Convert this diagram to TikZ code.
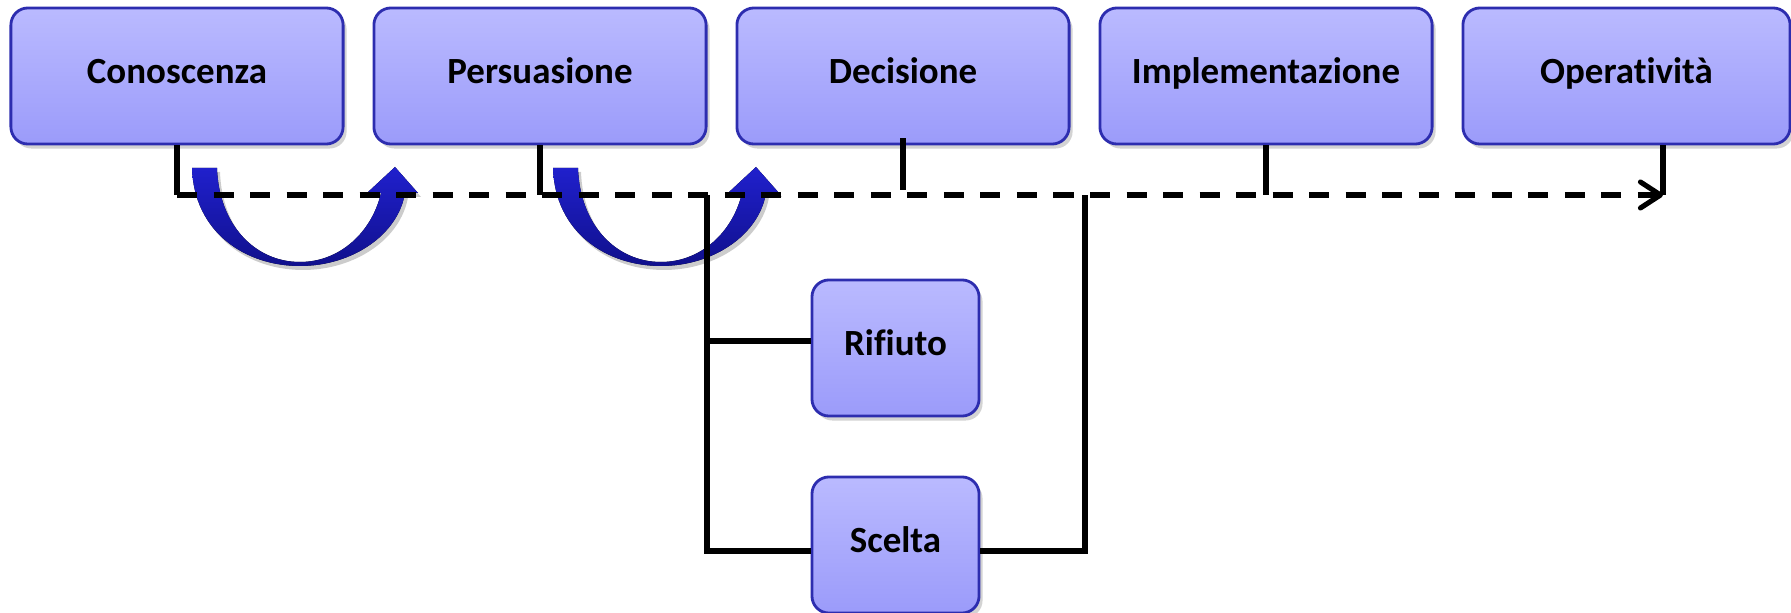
\documentclass[tikz,border=0pt]{standalone}
\usepackage{fontspec}
\setmainfont{Carlito}[Ligatures=NoCommon]
\usetikzlibrary{arrows.meta, shadows}

\definecolor{boxtop}{RGB}{186,186,255}
\definecolor{boxbot}{RGB}{155,155,250}
\definecolor{boxline}{RGB}{45,45,175}
\definecolor{curltop}{RGB}{32,32,205}
\definecolor{curlbot}{RGB}{16,16,140}

\begin{document}
\begin{tikzpicture}[x=0.01cm, y=-0.01cm,
  stage/.style={draw=boxline, line width=0.8pt, rounded corners=0.17cm,
    top color=boxtop, bottom color=boxbot,
    minimum width=3.32cm, minimum height=1.36cm,
    text height=0.23cm, text depth=0.08cm,
    font=\fontsize{10.5}{12}\selectfont\bfseries,
    drop shadow={shadow xshift=0.035cm, shadow yshift=-0.045cm, opacity=0.35}},
  small/.style={stage, minimum width=1.67cm},
  conn/.style={line width=1.45pt},
  flow/.style={conn, dash pattern=on 0.2cm off 0.165cm,
    -{Straight Barb[length=0.2cm, width=0.26cm, round]}},
  curl/.style={top color=curltop, bottom color=curlbot,
    drop shadow={shadow xshift=0.03cm, shadow yshift=-0.04cm, opacity=0.4}}]
	\useasboundingbox (0,0) rectangle (1791,613);

	\node [stage] (cono) at (177,76) {Conoscenza};
	\node [stage] (pers) at (540,76) {Persuasione};
	\node [stage] (deci) at (903,76) {Decisione};
	\node [stage] (impl) at (1266,76) {Implementazione};
	\node [stage, minimum width=3.27cm] (oper) at (1626.5,76) {Operatività};
	\node [small] (rifi) at (895.5,348) {Rifiuto};
	\node [small] (scel) at (895.5,545) {Scelta};

	\coordinate (c0) at (177,195);
	\coordinate (p0) at (540,195);
	\coordinate (i0) at (1266,195);
	\coordinate (o0) at (1663,195);
	\coordinate (d0) at (707,195);
	\coordinate (d1) at (707,551);
	\coordinate (r0) at (707,341);
	\coordinate (s0) at (1085,551);
	\coordinate (s1) at (1085,195);

	% blue curved arrows
	\fill [curl] (192,168) .. controls (194,232) and (245,266) .. (300,266)
		.. controls (352,266) and (398,235) .. (405,193) -- (418,193) -- (395,167)
		-- (367,193) -- (381,193) .. controls (372,232) and (340,262) .. (300,262)
		.. controls (255,262) and (219,225) .. (217,168) -- cycle;
	\fill [curl, shift={(361,0)}] (192,168) .. controls (194,232) and (245,266) .. (300,266)
		.. controls (352,266) and (398,235) .. (405,193) -- (418,193) -- (395,167)
		-- (367,193) -- (381,193) .. controls (372,232) and (340,262) .. (300,262)
		.. controls (255,262) and (219,225) .. (217,168) -- cycle;

	\draw [flow] (c0) -- (o0);
	\draw [conn] (cono.south) -- (c0);
	\draw [conn] (pers.south) -- (p0);
	\draw [conn] ([yshift=0.07cm]deci.south) -- ++(0,52);
	\draw [conn] (impl.south) -- (i0);
	\draw [conn] (o0 |- oper.south) -- (o0);
	\draw [conn] (d0) -- (d1) -- (d1 -| scel.west);
	\draw [conn] (r0) -- (r0 -| rifi.west);
	\draw [conn] (s0 -| scel.east) -- (s0) -- (s1);
\end{tikzpicture}
\end{document}
